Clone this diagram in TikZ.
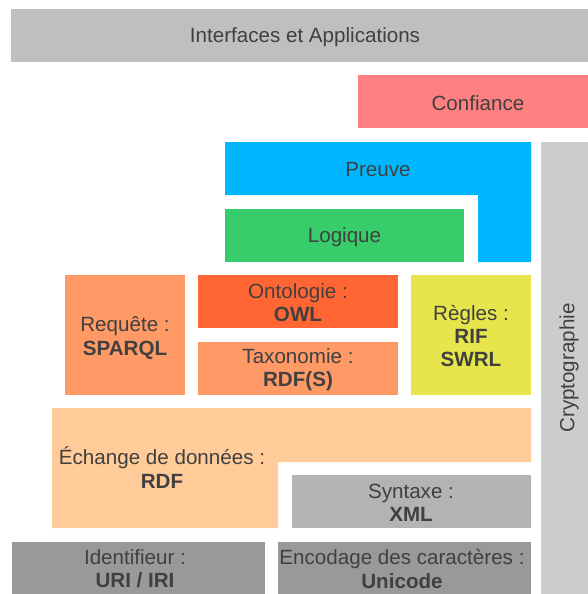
\documentclass[tikz,border=0pt]{standalone}
\usepackage{fontspec}
\setmainfont{Liberation Sans}
\definecolor{txt}{HTML}{404040}
\definecolor{cInter}{HTML}{BFBFBF}
\definecolor{cConf}{HTML}{FF8080}
\definecolor{cPreuve}{HTML}{00B7FF}
\definecolor{cLog}{HTML}{37CD6A}
\definecolor{cCrypto}{HTML}{CCCCCC}
\definecolor{cReq}{HTML}{FF9966}
\definecolor{cOnto}{HTML}{FF6633}
\definecolor{cRegles}{HTML}{E6E64C}
\definecolor{cEch}{HTML}{FFCC99}
\definecolor{cSyn}{HTML}{B3B3B3}
\definecolor{cBase}{HTML}{999999}
\begin{document}
\begin{tikzpicture}[x=1pt,y=-1pt,
  lbl/.style={font=\fontsize{20.6}{23.2}\selectfont, text=txt, align=center, inner sep=0pt}]
\useasboundingbox (0,0) rectangle (588,594);
\clip (0,0) rectangle (588,594);
% shapes
\fill[cInter] (11,9) rectangle (600,62);
\fill[cConf] (358,75) rectangle (600,128);
\fill[cPreuve] (225,142) -- (531,142) -- (531,262) -- (478,262) -- (478,195) -- (225,195) -- cycle;
\fill[cLog] (225,209) rectangle (464,262);
\fill[cCrypto] (541,142) rectangle (598,600);
\fill[cReq] (65,275) rectangle (185,395);
\fill[cOnto] (198,275) rectangle (398,328);
\fill[cReq] (198,342) rectangle (398,395);
\fill[cRegles] (411,275) rectangle (531,395);
\fill[cEch] (52,408) -- (531,408) -- (531,462) -- (278,462) -- (278,528) -- (52,528) -- cycle;
\fill[cSyn] (292,475) rectangle (531,528);
\fill[cBase] (12,542) rectangle (265,600);
\fill[cBase] (278,542) rectangle (531,600);
% labels
\node[lbl] (inter) at (305,37) {Interfaces et Applications};
\node[lbl] (conf) at (478,103.5) {Confiance};
\node[lbl] (preuve) at (378,170) {Preuve};
\node[lbl] (logique) at (344.5,237.5) {Logique};
\node[lbl, rotate=90] (crypto) at (569,368) {Cryptographie};
\node[lbl] (req) at (125,338) {Requête :\\\textbf{SPARQL}};
\node[lbl] (onto) at (298,303) {Ontologie :\\\textbf{OWL}};
\node[lbl] (taxo) at (298,370) {Taxonomie :\\\textbf{RDF(S)}};
\node[lbl] (regles) at (471,336) {Règles :\\\textbf{RIF}\\\textbf{SWRL}};
\node[lbl] (ech) at (162,467.5) {Échange de données :\\\textbf{RDF}};
\node[lbl] (syn) at (411,502.5) {Syntaxe :\\\textbf{XML}};
\node[lbl] (ident) at (135,569) {Identifieur :\\\textbf{URI / IRI}};
\node[lbl] (enc) at (402,569) {Encodage des caractères :\\\textbf{Unicode}};
\end{tikzpicture}
\end{document}
